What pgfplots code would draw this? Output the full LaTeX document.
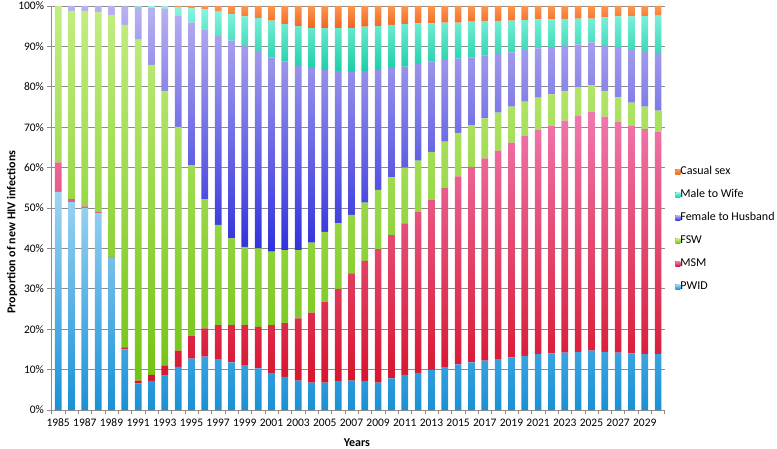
\documentclass[border=0pt]{standalone}
\usepackage{fontspec}
\setmainfont{Carlito}
\usepackage{pgfplots}
\usepackage{pgfplotstable}
\pgfplotsset{compat=1.18}

\definecolor{pwidT}{RGB}{158,212,242}
\definecolor{pwidB}{RGB}{25,145,215}
\definecolor{msmT}{RGB}{240,120,175}
\definecolor{msmB}{RGB}{215,20,45}
\definecolor{fswT}{RGB}{195,238,130}
\definecolor{fswB}{RGB}{115,195,20}
\definecolor{fthT}{RGB}{185,178,240}
\definecolor{fthB}{RGB}{48,48,220}
\definecolor{mtwT}{RGB}{140,245,225}
\definecolor{mtwB}{RGB}{25,205,165}
\definecolor{csT}{RGB}{250,150,80}
\definecolor{csB}{RGB}{240,100,30}
\definecolor{gridgray}{RGB}{140,140,140}

\pgfplotstableread{
year pwid msm fsw fth mtw cs
1985 54.0 7.3 38.7 0 0 0
1986 51.5 0.7 46.6 1.2 0 0
1987 50.0 0.4 48.4 1.2 0 0
1988 48.8 0.3 49.3 1.6 0 0
1989 37.7 0.2 59.9 2.2 0 0
1990 15.0 0.5 79.8 4.6 0.1 0
1991 6.6 0.7 84.4 8.1 0.2 0
1992 7.2 1.5 76.7 14.2 0.4 0
1993 8.5 2.4 68.1 20.4 0.6 0
1994 10.7 4.0 55.4 27.4 2.2 0.3
1995 12.7 5.6 42.3 35.3 3.5 0.6
1996 13.2 7.0 32.0 42.0 5.0 0.8
1997 12.6 8.4 24.8 46.8 6.0 1.4
1998 11.8 9.2 21.5 48.9 6.6 2.0
1999 11.1 9.9 19.4 49.7 7.3 2.6
2000 10.3 10.3 19.4 48.9 8.1 3.0
2001 9.2 11.8 18.2 48.1 9.1 3.6
2002 8.2 13.3 18.1 46.6 9.3 4.5
2003 7.3 15.4 16.9 45.5 9.9 5.0
2004 6.8 17.3 17.3 43.2 9.9 5.5
2005 6.8 19.9 17.4 40.1 10.3 5.5
2006 7.2 22.8 16.2 37.7 10.6 5.5
2007 7.3 26.5 14.5 35.3 10.9 5.5
2008 7.2 29.7 14.4 32.6 11.0 5.1
2009 6.8 33.0 14.7 29.7 10.8 5.0
2010 7.8 35.5 14.3 27.0 10.7 4.7
2011 8.7 37.5 13.8 25.0 10.5 4.5
2012 9.2 39.9 12.6 23.9 10.1 4.3
2013 9.9 42.2 11.8 22.3 9.5 4.3
2014 10.5 44.4 11.5 20.2 9.3 4.1
2015 11.3 46.5 10.8 18.4 8.9 4.1
2016 11.8 48.4 10.3 16.8 8.8 3.9
2017 12.2 50.1 9.9 15.6 8.5 3.7
2018 12.6 51.6 9.4 14.5 8.2 3.7
2019 13.0 53.2 8.9 13.4 7.9 3.6
2020 13.4 54.4 8.5 12.8 7.4 3.5
2021 13.8 55.5 8.0 12.2 7.2 3.3
2022 14.0 56.4 7.7 11.8 6.8 3.3
2023 14.2 57.4 7.4 11.1 6.7 3.2
2024 14.4 58.4 7.1 10.6 6.4 3.1
2025 14.7 59.0 6.7 10.6 5.9 3.1
2026 14.4 58.2 6.4 11.3 6.9 2.8
2027 14.2 57.2 6.0 12.4 7.6 2.6
2028 14.0 56.3 5.8 13.2 8.1 2.6
2029 13.8 55.7 5.6 13.8 8.6 2.5
2030 13.8 55.1 5.2 14.3 9.2 2.4
}\datatable

\begin{document}
\begin{tikzpicture}
\useasboundingbox (0,0) rectangle (777pt,449pt);
\begin{axis}[
  at={(51.5pt,39pt)}, anchor=south west,
  scale only axis, width=613.3pt, height=404pt,
  ybar stacked, bar width=6.7pt,
  xmin=1984.5, xmax=2030.5, ymin=0, ymax=100,
  axis x line*=bottom, axis y line*=left,
  axis line style={gridgray, line width=0.8pt, -},
  xtick={1985,1987,...,2029},
  major x tick style={draw=none},
  minor xtick={1984.5,1985.5,...,2030.5},
  minor x tick style={gridgray, line width=0.6pt},
  minor tick length=4pt,
  ytick={0,10,...,100},
  y tick style={gridgray, line width=0.6pt},
  tick align=outside, major tick length=4pt,
  ymajorgrids, grid style={gridgray, line width=0.8pt},
  yticklabel={\pgfmathprintnumber{\tick}\%},
  /pgf/number format/1000 sep={},
  /pgf/number format/assume math mode=true,
  tick label style={font=\fontsize{11.5}{13}\selectfont, black},
  xticklabel style={yshift=-1.5pt},
  ylabel={\textbf{Proportion of new HIV infections}},
  ylabel style={at={(axis description cs:-0.0644,0.44)}, anchor=center, font=\fontsize{12}{14}\selectfont},
  xlabel={\textbf{Years}},
  xlabel style={at={(axis description cs:0.498,-0.082)}, anchor=center, font=\fontsize{12}{14}\selectfont},
  reverse legend,
  legend style={at={(axis description cs:1.017,0.602)}, anchor=north west, draw=none, fill=none,
    font=\fontsize{12}{14}\selectfont, row sep=13pt, inner sep=0pt,
    nodes={inner sep=0pt, text height=8pt, text depth=2pt}},
  legend cell align=left,
  legend image code/.code={\fill[#1] (0pt,-2.5pt) rectangle (5pt,2.5pt);},
]
\addplot[draw=none, top color=pwidT, bottom color=pwidB] table[x=year,y=pwid]{\datatable};
\addplot[draw=none, top color=msmT, bottom color=msmB] table[x=year,y=msm]{\datatable};
\addplot[draw=none, top color=fswT, bottom color=fswB] table[x=year,y=fsw]{\datatable};
\addplot[draw=none, top color=fthT, bottom color=fthB] table[x=year,y=fth]{\datatable};
\addplot[draw=none, top color=mtwT, bottom color=mtwB] table[x=year,y=mtw]{\datatable};
\addplot[draw=none, top color=csT, bottom color=csB] table[x=year,y=cs]{\datatable};
\legend{PWID,MSM,FSW,Female to Husband,Male to Wife,Casual sex}
\end{axis}
\end{tikzpicture}
\end{document}
